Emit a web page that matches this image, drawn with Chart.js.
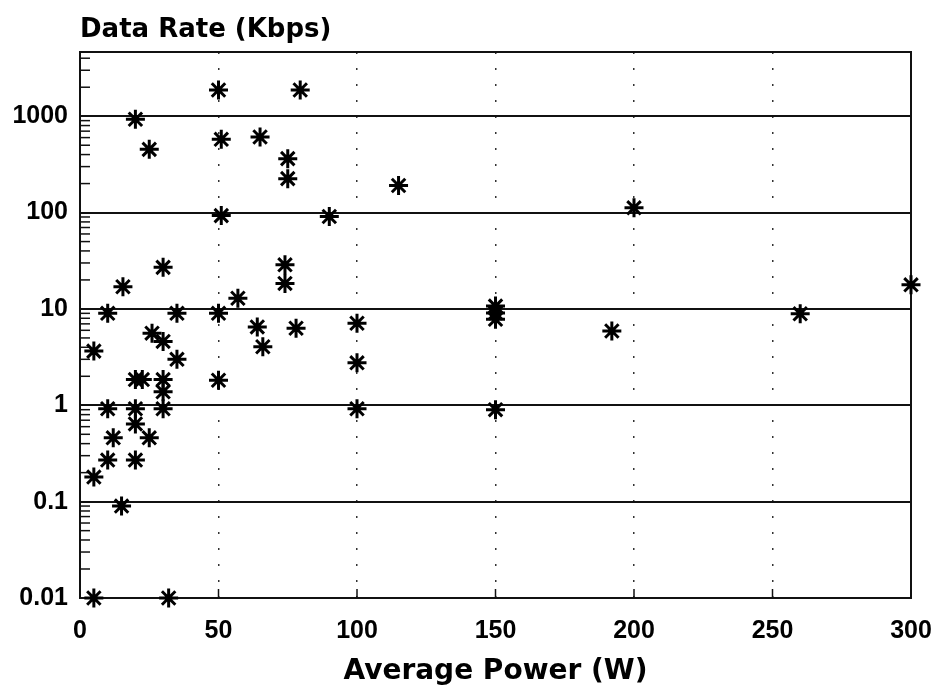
<!DOCTYPE html>
<html>
<head>
<meta charset="utf-8">
<style>
  html, body { margin: 0; padding: 0; background: #fff; }
</style>
</head>
<body>
<canvas id="myChart" width="938" height="692"></canvas>
<script src="https://cdn.jsdelivr.net/npm/chart.js@4.4.1/dist/chart.umd.min.js"></script>
<script>
// values
const powerW = [5, 32, 5, 15, 10, 20, 12, 25, 20, 10, 20, 30, 30, 30, 20, 22.5, 50, 5, 35, 26,
  30, 10, 35, 50, 64, 66, 78, 100, 100, 100, 20, 25, 51, 50, 65, 75, 75, 51, 90, 15.5,
  30, 57, 74, 74, 79.5, 115, 200, 300, 260, 150, 150, 150, 192, 150];
const rateKbps = [0.01, 0.01, 0.18, 0.09, 0.27, 0.27, 0.46, 0.46, 0.64, 0.92, 0.92, 0.92, 1.38, 1.85, 1.85, 1.85, 1.82, 3.65, 3.0, 5.6,
  4.6, 9.0, 9.0, 9.0, 6.5, 4.05, 6.3, 7.1, 2.76, 0.92, 930, 453, 576, 1870, 609, 363, 225, 93, 91, 17,
  27, 12.9, 28.7, 18.4, 1870, 191, 112, 17.8, 8.9, 10.7, 9.1, 7.8, 5.9, 0.9];
const xTicks = [0, 50, 100, 150, 200, 250, 300];
const yTicks = [0.01, 0.1, 1, 10, 100, 1000];
const yTickLabels = ['0.01', '0.1', '1', '10', '100', '1000'];

const ctx = document.getElementById('myChart');
const tickFont = { family: '"Liberation Sans", Arial, sans-serif', weight: 'bold', size: 25 };
const titleFamily = '"DejaVu Sans", sans-serif';

// box around the plot, inner minor ticks and the y title
const framePlugin = {
  id: 'frame',
  beforeDatasetsDraw(chart) {
    const { ctx, chartArea: a, scales: { x, y } } = chart;
    ctx.save();
    ctx.strokeStyle = '#111';
    ctx.lineWidth = 2;
    ctx.strokeRect(a.left, a.top, a.right - a.left, a.bottom - a.top);

    ctx.lineWidth = 1.5;
    yTicks.forEach(d => {
      for (let m = 2; m <= 9; m++) {
        const v = d * m;
        if (v > y.max) break;
        const py = y.getPixelForValue(v);
        ctx.beginPath();
        ctx.moveTo(a.left, py);
        ctx.lineTo(a.left + 10, py);
        ctx.stroke();
      }
    });
    xTicks.forEach(v => {
      const px = x.getPixelForValue(v);
      ctx.beginPath();
      ctx.moveTo(px, a.bottom);
      ctx.lineTo(px, a.bottom - 9);
      ctx.stroke();
    });

    ctx.fillStyle = '#000';
    ctx.font = 'bold 26px ' + titleFamily;
    ctx.textBaseline = 'alphabetic';
    ctx.textAlign = 'left';
    ctx.fillText('Data Rate (Kbps)', a.left, 37);
    ctx.restore();
  }
};

new Chart(ctx, {
  type: 'scatter',
  data: {
    datasets: [{
      data: powerW.map((p, i) => ({ x: p, y: rateKbps[i] })),
      pointStyle: 'star',
      pointRadius: 9.5,
      pointBorderWidth: 3,
      borderColor: '#000',
      backgroundColor: '#000',
      clip: false
    }]
  },
  options: {
    responsive: false,
    animation: false,
    layout: { padding: { top: 52, right: 27, left: 0, bottom: 0 } },
    plugins: {
      legend: { display: false },
      tooltip: { enabled: false }
    },
    scales: {
      x: {
        type: 'linear',
        min: 0,
        max: 300,
        afterBuildTicks: s => { s.ticks = xTicks.map(v => ({ value: v })); },
        afterFit: s => { s.height = 94; s.paddingLeft = 0; s.paddingRight = 0; },
        ticks: { font: tickFont, color: '#000', padding: 18, autoSkip: false, maxRotation: 0 },
        grid: {
          drawTicks: false,
          lineWidth: 1.5,
          color: c => (c.tick && (c.tick.value === 0 || c.tick.value === 300)) ? 'rgba(0,0,0,0)' : '#333'
        },
        border: { display: false, dash: [2, 14] },
        title: {
          display: true,
          text: 'Average Power (W)',
          color: '#000',
          font: { family: titleFamily, weight: 'bold', size: 28, lineHeight: 1.2 },
          padding: { top: 0, bottom: 3 }
        }
      },
      y: {
        type: 'logarithmic',
        min: 0.01,
        max: 4640,
        afterBuildTicks: s => { s.ticks = yTicks.map(v => ({ value: v })); },
        afterFit: s => { s.width = 80; },
        ticks: {
          font: tickFont,
          color: '#000',
          padding: 12,
          autoSkip: false,
          callback: (v, i) => yTickLabels[i]
        },
        grid: { drawTicks: false, lineWidth: 2, color: '#111' },
        border: { display: false }
      }
    }
  },
  plugins: [framePlugin]
});
</script>
</body>
</html>
